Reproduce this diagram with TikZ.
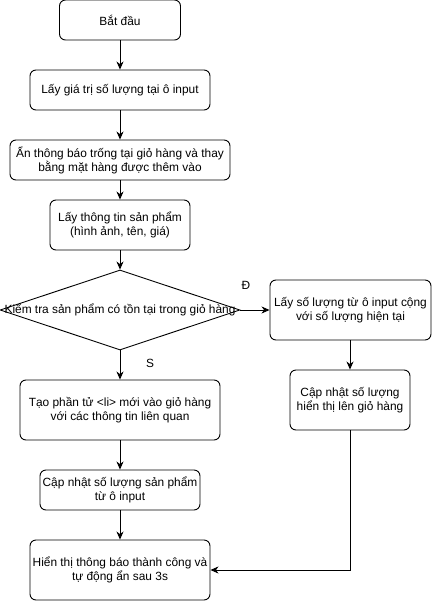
\documentclass[tikz,border=0pt]{standalone}
\usepackage{fontspec}
\setmainfont{Liberation Sans}
\usetikzlibrary{shapes.geometric,arrows.meta}

\begin{document}
\begin{tikzpicture}[x=1pt, y=-1pt, line width=0.9pt,
    >={Stealth[length=8pt,width=7pt,inset=2.5pt]},
    box/.style={draw, rounded corners=6pt, align=center, inner sep=0pt,
        font=\fontsize{11.9}{14}\selectfont},
    decision/.style={draw, diamond, minimum width=240pt, minimum height=80pt, inner sep=0pt}]
    % Page frame
    \useasboundingbox (0,0) rectangle (432,602);

    % Main column
    \node[box, minimum width=121pt, minimum height=40pt] (start) at (120,20) {Bắt đầu};
    \node[box, minimum width=180pt, minimum height=40pt] (getqty) at (120,90) {Lấy giá trị số lượng tại ô input};
    \node[box, minimum width=220pt, minimum height=40pt] (hidemsg) at (120,160) {Ẩn thông báo trống tại giỏ hàng và thay\\bằng mặt hàng được thêm vào};
    \node[box, minimum width=140pt, minimum height=50pt] (getinfo) at (120,225) {Lấy thông tin sản phẩm\\(hình ảnh, tên, giá)};
    \node[decision, label={[font=\fontsize{11.9}{14}\selectfont]center:Kiểm tra sản phẩm có tồn tại trong giỏ hàng}] (check) at (120,310) {};
    \node[box, minimum width=200pt, minimum height=60pt] (newitem) at (120,410) {Tạo phần tử <li> mới vào giỏ hàng\\với các thông tin liên quan};
    \node[box, minimum width=160pt, minimum height=40pt] (setqty) at (120,490) {Cập nhật số lượng sản phẩm\\từ ô input};
    \node[box, minimum width=180pt, minimum height=60pt] (notify) at (120,570) {Hiển thị thông báo thành công và\\tự động ẩn sau 3s};

    % Right branch
    \node[box, minimum width=161pt, minimum height=60pt] (addqty) at (350.5,310) {Lấy số lượng từ ô input cộng\\với số lượng hiện tại};
    \node[box, minimum width=120pt, minimum height=60pt] (update) at (350,400) {Cập nhật số lượng\\hiển thị lên giỏ hàng};

    % Branch labels
    \node[font=\fontsize{11.9}{14}\selectfont] (yes) at (246,285) {Đ};
    \node[font=\fontsize{11.9}{14}\selectfont] (no) at (150,363) {S};

    % Connectors
    \draw[->] (start) -- (getqty);
    \draw[->] (getqty) -- (hidemsg);
    \draw[->] (hidemsg) -- (getinfo);
    \draw[->] (getinfo) -- (check);
    \draw[->] (check.east) -- (addqty);
    \draw[->] (check) -- (newitem);
    \draw[->] (newitem) -- (setqty);
    \draw[->] (setqty) -- (notify);
    \draw[->] (addqty.south -| update) -- (update);
    \draw[->] (update.south) |- (notify.east);
\end{tikzpicture}
\end{document}
